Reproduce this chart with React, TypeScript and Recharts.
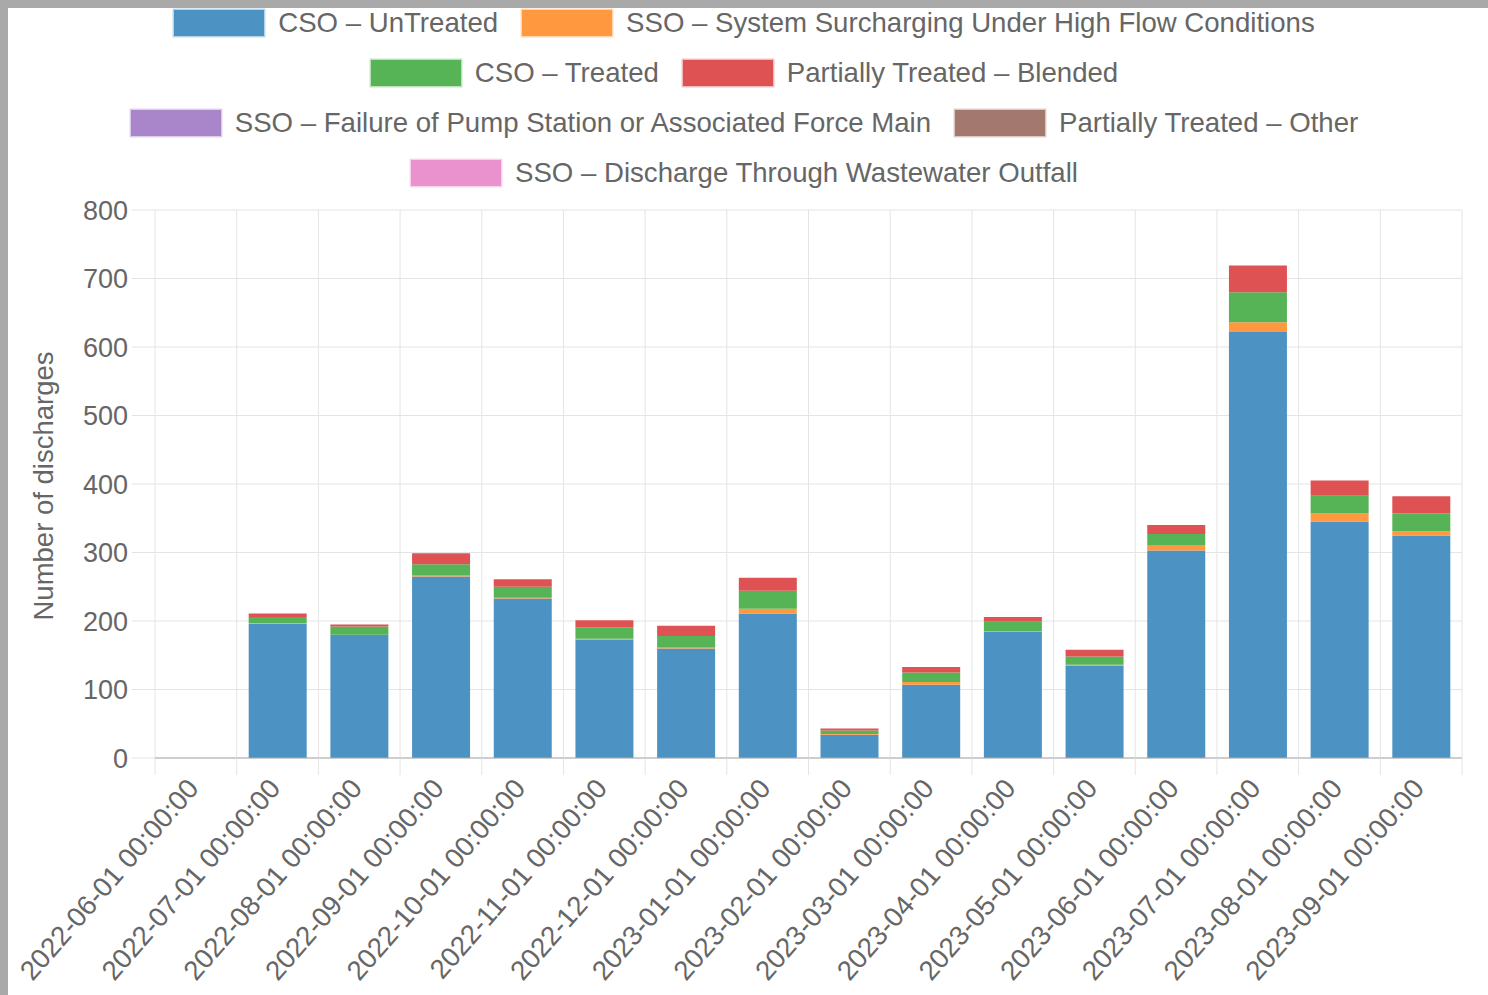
import { BarChart, Bar, XAxis, YAxis, CartesianGrid } from 'recharts';

const months = [
  '2022-06-01 00:00:00', '2022-07-01 00:00:00', '2022-08-01 00:00:00', '2022-09-01 00:00:00',
  '2022-10-01 00:00:00', '2022-11-01 00:00:00', '2022-12-01 00:00:00', '2023-01-01 00:00:00',
  '2023-02-01 00:00:00', '2023-03-01 00:00:00', '2023-04-01 00:00:00', '2023-05-01 00:00:00',
  '2023-06-01 00:00:00', '2023-07-01 00:00:00', '2023-08-01 00:00:00', '2023-09-01 00:00:00',
];

const csoUntreated = [0, 196, 180, 265, 233, 173, 160, 211, 34, 107, 184, 135, 303, 622, 345, 325];
const ssoSurcharging = [0, 1, 0, 2, 1, 1, 2, 7, 1, 4, 1, 1, 8, 14, 12, 6];
const csoTreated = [0, 9, 12, 16, 16, 17, 16, 26, 5, 14, 14, 12, 16, 44, 26, 26];
const partialBlended = [0, 5, 3, 16, 11, 10, 15, 19, 3, 8, 7, 10, 13, 39, 22, 25];
const ssoPumpFailure = [0, 0, 0, 0, 0, 0, 0, 0, 0, 0, 0, 0, 0, 0, 0, 0];
const partialOther = [0, 0, 0, 0, 0, 0, 0, 0, 0, 0, 0, 0, 0, 0, 0, 0];
const ssoOutfall = [0, 0, 0, 0, 0, 0, 0, 0, 0, 0, 0, 0, 0, 0, 0, 0];

const yTicks = [0, 100, 200, 300, 400, 500, 600, 700, 800];

const series = [
  { key: 'untreated', name: 'CSO – UnTreated', color: '#4c92c3', values: csoUntreated },
  { key: 'surcharging', name: 'SSO – System Surcharging Under High Flow Conditions', color: '#ff983e', values: ssoSurcharging },
  { key: 'treated', name: 'CSO – Treated', color: '#56b356', values: csoTreated },
  { key: 'blended', name: 'Partially Treated – Blended', color: '#de5253', values: partialBlended },
  { key: 'pump', name: 'SSO – Failure of Pump Station or Associated Force Main', color: '#a985ca', values: ssoPumpFailure },
  { key: 'other', name: 'Partially Treated – Other', color: '#a3786f', values: partialOther },
  { key: 'outfall', name: 'SSO – Discharge Through Wastewater Outfall', color: '#e992ce', values: ssoOutfall },
];

// how the legend wraps in the original
const legendRows = [[0, 1], [2, 3], [4, 5], [6]];

const data = months.map((m, i) => {
  const row: Record<string, string | number> = { month: m };
  series.forEach(s => { row[s.key] = s.values[i]; });
  return row;
});

const W = 1480;
const H = 987;
const PLOT_LEFT = 147;
const PLOT_RIGHT = 1454;
const BAND = (PLOT_RIGHT - PLOT_LEFT) / months.length;
const GRID = '#e4e4e4';
const TEXT = '#666';
const FONT = "'Liberation Sans', Arial, sans-serif";

function MonthTick(props: any) {
  const { x, y, payload, index } = props;
  const left = x - BAND / 2;
  const px = x - 3;
  const py = y + 25;
  return (
    <g>
      <line x1={left} x2={left} y1={y} y2={y + 17} stroke={GRID} />
      {index === months.length - 1 && (
        <line x1={x + BAND / 2} x2={x + BAND / 2} y1={y} y2={y + 17} stroke={GRID} />
      )}
      <text
        x={px}
        y={py}
        dy="0.35em"
        textAnchor="end"
        fill={TEXT}
        fontSize={27.5}
        fontFamily={FONT}
        transform={`rotate(-49, ${px}, ${py})`}
      >
        {payload.value}
      </text>
    </g>
  );
}

function YTitle(props: any) {
  const { viewBox } = props;
  const cx = 35;
  const cy = viewBox.y + viewBox.height / 2 + 2;
  return (
    <text
      x={cx}
      y={cy}
      dy="0.35em"
      textAnchor="middle"
      fill={TEXT}
      fontSize={27.5}
      fontFamily={FONT}
      transform={`rotate(-90, ${cx}, ${cy})`}
    >
      Number of discharges
    </text>
  );
}

function LegendBlock() {
  return (
    <div style={{ position: 'absolute', left: 0, top: -10, width: W - 8 }}>
      {legendRows.map((row, r) => (
        <div key={r} style={{ height: 50, display: 'flex', justifyContent: 'center', alignItems: 'center' }}>
          {row.map((idx, j) => {
            const s = series[idx];
            return (
              <div key={s.key} style={{ display: 'flex', alignItems: 'center', marginLeft: j === 0 ? 0 : 23 }}>
                <div
                  style={{
                    width: 92,
                    height: 28,
                    background: s.color,
                    boxSizing: 'border-box',
                    border: '1px solid rgba(255,255,255,0.6)',
                    boxShadow: `0 0 1px ${s.color}`,
                  }}
                />
                <span style={{ marginLeft: 13, fontSize: 27.6, color: TEXT, whiteSpace: 'nowrap', lineHeight: '28px' }}>
                  {s.name}
                </span>
              </div>
            );
          })}
        </div>
      ))}
    </div>
  );
}

export default function App() {
  return (
    <div style={{ position: 'fixed', left: 0, top: 0, right: 0, bottom: 0, background: '#a9a9a9', overflow: 'hidden' }}>
      <div style={{ position: 'absolute', left: 8, top: 8, right: 0, bottom: 0, background: '#fff', fontFamily: FONT }}>
        <LegendBlock />
        <BarChart
          width={W}
          height={H}
          data={data}
          margin={{ top: 202, right: W - PLOT_RIGHT, bottom: 37, left: 0 }}
        >
          <CartesianGrid
            stroke={GRID}
            verticalCoordinatesGenerator={({ offset }: any) =>
              months.map((_, i) => offset.left + (i * offset.width) / months.length).concat(offset.left + offset.width)
            }
          />
          <XAxis
            dataKey="month"
            interval={0}
            height={200}
            tickLine={false}
            tickSize={0}
            tickMargin={0}
            axisLine={{ stroke: '#aaa' }}
            tick={<MonthTick />}
          />
          <YAxis
            width={PLOT_LEFT}
            domain={[0, 800]}
            ticks={yTicks}
            interval={0}
            axisLine={false}
            tickLine={{ stroke: GRID }}
            tickSize={23}
            tickMargin={4}
            tick={{ fill: TEXT, fontSize: 27, fontFamily: FONT }}
            label={<YTitle />}
          />
          {series.map(s => (
            <Bar key={s.key} dataKey={s.key} name={s.name} stackId="a" fill={s.color} barSize={58} isAnimationActive={false} />
          ))}
        </BarChart>
      </div>
    </div>
  );
}
